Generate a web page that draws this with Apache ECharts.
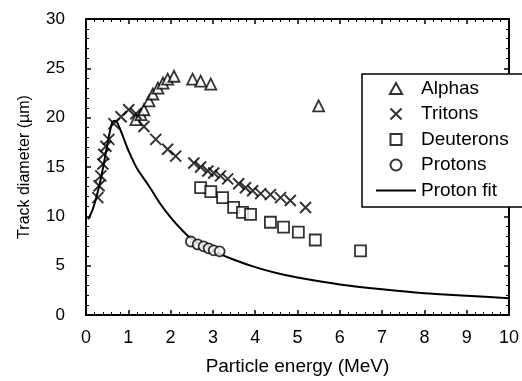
<!DOCTYPE html>
<html>
<head>
<meta charset="utf-8">
<script src="https://cdn.jsdelivr.net/npm/echarts@6/dist/echarts.min.js"></script>
<style>
  html, body { margin: 0; padding: 0; background: #fff; }
  #chart { width: 522px; height: 381px; }
</style>
</head>
<body>
<div id="chart"></div>
<script>
// [energy MeV, track diameter um]
const alphas = [
  [1.18, 19.8], [1.30, 20.3], [1.37, 20.8], [1.49, 21.7], [1.58, 22.4], [1.70, 23.0],
  [1.82, 23.5], [1.93, 23.9], [2.08, 24.2], [2.52, 23.9], [2.71, 23.7], [2.95, 23.4],
  [5.50, 21.2]
]
const tritons = [
  [0.28, 11.9], [0.31, 13.1], [0.35, 14.1], [0.40, 15.3], [0.42, 16.3], [0.47, 17.1],
  [0.54, 17.8], [0.66, 19.4], [0.83, 20.1], [1.01, 20.8], [1.18, 20.4], [1.37, 19.1],
  [1.65, 17.8], [1.93, 16.8], [2.12, 16.1], [2.55, 15.4], [2.71, 15.0], [2.88, 14.6],
  [3.02, 14.4], [3.18, 14.1], [3.35, 13.8], [3.61, 13.3], [3.77, 12.9], [3.94, 12.6],
  [4.13, 12.3], [4.36, 12.2], [4.60, 11.9], [4.83, 11.6], [5.19, 10.9]
]
const deuterons = [
  [2.71, 12.9], [2.95, 12.5], [3.23, 11.9], [3.49, 10.9], [3.70, 10.4], [3.89, 10.2],
  [4.36, 9.4], [4.67, 8.9], [5.02, 8.4], [5.42, 7.6], [6.49, 6.5]
]
const protons = [
  [2.48, 7.45], [2.64, 7.15], [2.78, 6.95], [2.90, 6.75], [3.02, 6.55], [3.16, 6.45]
]
const protonFit = [
  [0.05, 9.7], [0.15, 10.6], [0.25, 12.0], [0.35, 13.8], [0.45, 16.0], [0.55, 18.3],
  [0.63, 19.6], [0.7, 19.7], [0.8, 18.9], [0.9, 17.8], [1.0, 16.7], [1.2, 14.9],
  [1.5, 13.0], [1.75, 11.3], [2.0, 9.9], [2.25, 8.7], [2.5, 7.7], [3.0, 6.5],
  [3.5, 5.6], [4.0, 4.85], [4.5, 4.25], [5.0, 3.8], [6.0, 3.1], [7.0, 2.6],
  [8.0, 2.2], [9.0, 1.95], [10.0, 1.7]
]

const FONT = 'Liberation Sans, Arial, sans-serif'
const black = '#000'

// marker shapes as paths so the legend keeps them square
const TRIANGLE = 'path://M5,0L10,9L0,9Z'
const CROSS = 'path://M0,0L10,10M10,0L0,10'
const SQUARE = 'path://M0,0H10V10H0Z'
const CIRCLE = 'path://M10,5A5,5,0,1,1,0,5A5,5,0,1,1,10,5Z'
const LINE_ICON = 'path://M0,0H40V2H0Z'

const chart = echarts.init(document.getElementById('chart'))

// frame axis: line + inward ticks, no labels unless overridden
function frameAxis(extra) {
  return Object.assign({
    type: 'value',
    axisLine: { show: true, onZero: false, lineStyle: { color: '#000', width: 2 } },
    axisTick: { show: true, inside: true, length: 5, lineStyle: { color: '#000', width: 1.5 } },
    minorTick: { show: true, splitNumber: 5, length: 3, lineStyle: { color: '#000', width: 1 } },
    splitLine: { show: false },
    axisLabel: { show: false }
  }, extra)
}

const option = {
  animation: false,
  backgroundColor: '#fff',
  // grid border draws the plot frame
  grid: { left: 86, right: 13, top: 19, bottom: 66, show: true, borderColor: '#000', borderWidth: 2 },
  xAxis: [
    frameAxis({
      min: 0, max: 10, interval: 1, position: 'bottom',
      axisLabel: { show: true, color: black, fontSize: 18, fontFamily: FONT, margin: 14 },
      name: 'Particle energy (MeV)', nameLocation: 'middle', nameGap: 42,
      nameTextStyle: { color: black, fontSize: 19, fontFamily: FONT }
    }),
    frameAxis({ min: 0, max: 10, interval: 1, position: 'top' })
  ],
  yAxis: [
    frameAxis({
      min: 0, max: 30, interval: 5, position: 'left',
      axisLabel: { show: true, color: black, fontSize: 17, fontFamily: FONT, margin: 21 },
      name: 'Track diameter (\u00b5m)', nameLocation: 'middle', nameGap: 53,
      nameTextStyle: { color: black, fontSize: 16, fontFamily: FONT }
    }),
    frameAxis({ min: 0, max: 30, interval: 5, position: 'right' })
  ],
  legend: {
    orient: 'vertical',
    left: 362, top: 74,
    padding: [5, 30, 7, 14],
    itemWidth: 40, itemHeight: 11, itemGap: 6.5,
    symbolKeepAspect: true,
    backgroundColor: '#fff',
    borderColor: black, borderWidth: 1.5,
    textStyle: { color: black, fontSize: 19, fontFamily: FONT },
    data: [
      { name: 'Alphas', icon: TRIANGLE },
      { name: 'Tritons', icon: CROSS },
      { name: 'Deuterons', icon: SQUARE },
      { name: 'Protons', icon: CIRCLE },
      { name: 'Proton fit', icon: LINE_ICON, itemStyle: { color: black, borderWidth: 0 } }
    ]
  },
  series: [
    {
      name: 'Proton fit', type: 'line', data: protonFit, smooth: 0.3,
      symbol: 'none', lineStyle: { color: black, width: 2 }, itemStyle: { color: black }, z: 1
    },
    {
      name: 'Alphas', type: 'scatter', data: alphas, symbol: TRIANGLE, symbolSize: 11,
      itemStyle: { color: '#fff', borderColor: black, borderWidth: 1.8 }, z: 3
    },
    {
      name: 'Tritons', type: 'scatter', data: tritons, symbol: CROSS, symbolSize: 11,
      itemStyle: { color: black, borderColor: black, borderWidth: 2 }, z: 3
    },
    {
      name: 'Deuterons', type: 'scatter', data: deuterons, symbol: SQUARE, symbolSize: 11,
      itemStyle: { color: '#fff', borderColor: black, borderWidth: 1.8 }, z: 3
    },
    {
      name: 'Protons', type: 'scatter', data: protons, symbol: CIRCLE, symbolSize: 10,
      itemStyle: { color: '#fff', borderColor: black, borderWidth: 1.8 }, z: 3
    }
  ]
}

chart.setOption(option)
chart.resize()
</script>
</body>
</html>
